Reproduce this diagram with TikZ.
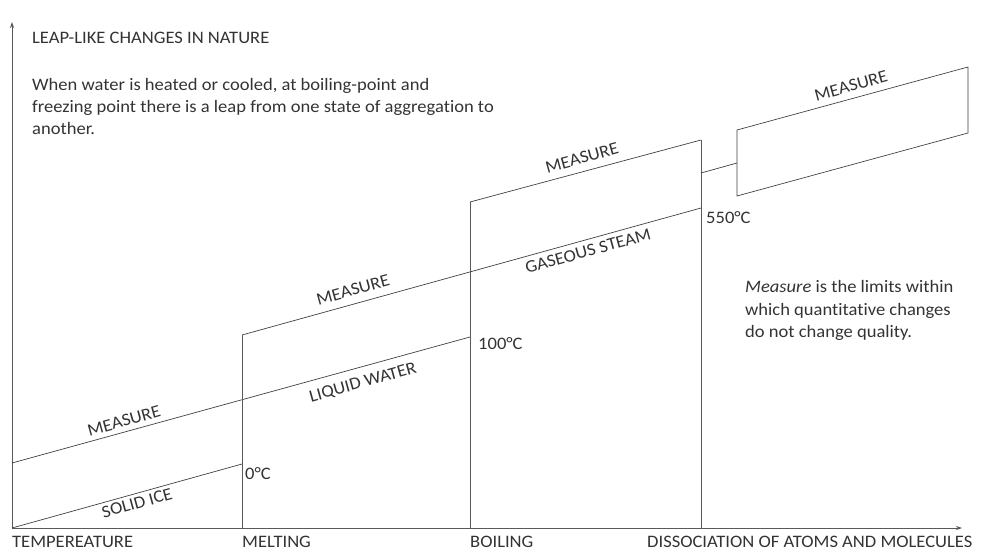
\documentclass[tikz,border=0pt]{standalone}
\usepackage{fontspec}
\setmainfont{Carlito}[FakeStretch=1.06, Ligatures=NoCommon]
\usetikzlibrary{arrows.meta,positioning}

\begin{document}
\begin{tikzpicture}[x=1pt, y=-1pt, >=Stealth, every node/.style={font=\fontsize{17.5}{22.3}\selectfont, text=black!80, inner sep=0pt},
    axis/.style={draw=black!65, line width=0.8pt},
    bound/.style={draw=black!75, line width=0.7pt},
    phase/.style={rotate=15.5}]
    \useasboundingbox (0,0) rectangle (983,553);

    % Axes
    \coordinate (origin) at (12,528);
    \coordinate (ytip) at (12,22);
    \coordinate (xtip) at (962,528);
    \draw[axis, -{Stealth[length=6pt, width=4pt]}] (origin) -- (ytip);
    \draw[axis, -{Stealth[length=6pt, width=4pt]}] (origin) -- (xtip);

    % Points on the axis
    \coordinate (melt) at (242,528);
    \coordinate (boil) at (470,528);
    \coordinate (dissoc) at (701,528);

    % Ice
    \coordinate (ice end) at (242,464);
    \draw[bound] (origin) -- (ice end);
    % Lower measure / water
    \coordinate (low start) at (12,463);
    \coordinate (water end) at (470,337);
    \draw[bound] (low start) -- (water end);
    % Middle measure / steam
    \coordinate (mid start) at (242,335);
    \coordinate (steam end) at (701,208);
    \draw[bound] (mid start) -- (steam end);
    % Upper measure
    \coordinate (up start) at (470,202);
    \coordinate (up end) at (701,140);
    \draw[bound] (up start) -- (up end);

    % Verticals
    \draw[axis] (melt) -- (mid start);
    \draw[axis] (boil) -- (up start);
    \draw[axis] (dissoc) -- (up end);

    % Box to the right
    \coordinate (link) at (701,173);
    \coordinate (box bl) at (737,196);
    \coordinate (box tl) at (737,130);
    \coordinate (box tr) at (968,67);
    \coordinate (box br) at (968,133);
    \coordinate (box left) at (737,163);
    \draw[bound] (link) -- (box left);
    \draw[bound] (box bl) -- (box tl) -- (box tr) -- (box br) -- cycle;

    % Texts at the top (base = last line)
    \node[anchor=base west] (title) at (32,44) {LEAP-LIKE CHANGES IN NATURE};
    \node[anchor=base west, align=left] (intro) at (32,135)
        {When water is heated or cooled, at boiling-point and\\
         freezing point there is a leap from one state of aggregation to\\
         another.};
    \node[anchor=base west, align=left] (note) at (745,337.6)
        {\emph{Measure} is the limits within\\
         which quantitative changes\\
         do not change quality.};

    % Axis labels
    \node[anchor=base west] (temp) at (12,547) {TEMPEREATURE};
    \node[anchor=base west] (melting) at (242,547) {MELTING};
    \node[anchor=base west] (boiling) at (470,547) {BOILING};
    \node[anchor=base west] (dissociation) at (647,547) {DISSOCIATION OF ATOMS AND MOLECULES};

    % Temperatures
    \node[anchor=base west] (zero) at (245,479) {0°C};
    \node[anchor=base west] (hundred) at (478,350) {100°C};
    \node[anchor=base west] (fivefifty) at (706,224) {550°C};

    % Phase labels
    \node[phase] (ice) at (137,503) {SOLID ICE};
    \node[phase] (measure a) at (124,421) {MEASURE};
    \node[phase] (water) at (363,383) {LIQUID WATER};
    \node[phase] (measure b) at (353,290) {MEASURE};
    \node[phase] (steam) at (588,251) {GASEOUS STEAM};
    \node[phase] (measure c) at (582,158) {MEASURE};
    \node[phase] (measure d) at (851,86) {MEASURE};
\end{tikzpicture}
\end{document}
